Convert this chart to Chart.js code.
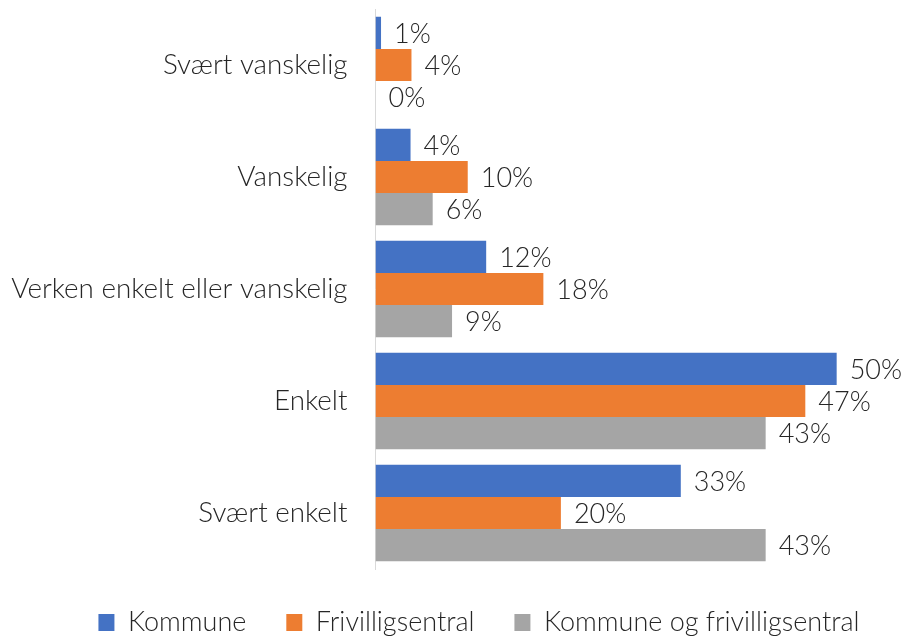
<!DOCTYPE html>
<html>
<head>
<meta charset="utf-8">
<script src="https://cdn.jsdelivr.net/npm/chart.js@4"></script>
<style>
  html, body { margin: 0; padding: 0; background: #ffffff; }
  #wrap { width: 904px; height: 636px; position: relative; }
</style>
</head>
<body>
<div id="wrap"><canvas id="c"></canvas></div>
<script>
const categories = ["Svært vanskelig", "Vanskelig", "Verken enkelt eller vanskelig", "Enkelt", "Svært enkelt"];
const seriesNames = ["Kommune", "Frivilligsentral", "Kommune og frivilligsentral"];
const kommune = [0.6, 3.8, 12.0, 50.0, 33.1];
const frivilligsentral = [3.9, 10.0, 18.2, 46.6, 20.1];
const begge = [0, 6.2, 8.3, 42.3, 42.3];
const kommuneLabels = ["1%", "4%", "12%", "50%", "33%"];
const frivilligLabels = ["4%", "10%", "18%", "47%", "20%"];
const beggeLabels = ["0%", "6%", "9%", "43%", "43%"];
const colors = ["#4472C4", "#ED7D31", "#A5A5A5"];

const FONT = "Lato, 'Liberation Sans', sans-serif";
const TEXT = "#262626";

const labelPlugin = {
  id: "barLabels",
  afterDatasetsDraw(chart) {
    const ctx = chart.ctx;
    ctx.save();
    ctx.font = "300 27px " + FONT;
    ctx.fillStyle = TEXT;
    ctx.textAlign = "left";
    ctx.textBaseline = "middle";
    chart.data.datasets.forEach((ds, di) => {
      const meta = chart.getDatasetMeta(di);
      meta.data.forEach((bar, i) => {
        ctx.fillText(ds.valueLabels[i], bar.x + 13, bar.y + 1);
      });
    });
    ctx.restore();
  }
};

const legendShift = {
  id: "legendShift",
  afterLayout(chart) {
    const lg = chart.legend;
    if (lg) { lg.left += 27; lg.right += 27; }
  }
};

new Chart(document.getElementById("c"), {
  type: "bar",
  data: {
    labels: categories,
    datasets: [
      { label: seriesNames[0], data: kommune, valueLabels: kommuneLabels, backgroundColor: colors[0] },
      { label: seriesNames[1], data: frivilligsentral, valueLabels: frivilligLabels, backgroundColor: colors[1] },
      { label: seriesNames[2], data: begge, valueLabels: beggeLabels, backgroundColor: colors[2] }
    ]
  },
  options: {
    indexAxis: "y",
    responsive: true,
    maintainAspectRatio: false,
    animation: false,
    datasets: { bar: { categoryPercentage: 0.86, barPercentage: 1.0 } },
    layout: { padding: { top: 9, left: 0, right: 0, bottom: 0 } },
    scales: {
      x: { display: false, min: 0, max: 57.3 },
      y: {
        grid: { display: false, drawTicks: false },
        border: { display: true, color: "#d9d9d9", width: 1 },
        ticks: { color: TEXT, padding: 28, font: { family: FONT, size: 27.8, weight: 300 } },
        afterFit(scale) { scale.width = 375.5; scale.paddingTop = 0; scale.paddingBottom = 0; }
      }
    },
    plugins: {
      tooltip: { enabled: false },
      legend: {
        position: "bottom",
        maxHeight: 67,
        labels: {
          color: TEXT,
          boxWidth: 16,
          boxHeight: 17,
          padding: 40,
          font: { family: FONT, size: 27, weight: 300 }
        }
      }
    }
  },
  plugins: [labelPlugin, legendShift]
});
</script>
</body>
</html>
